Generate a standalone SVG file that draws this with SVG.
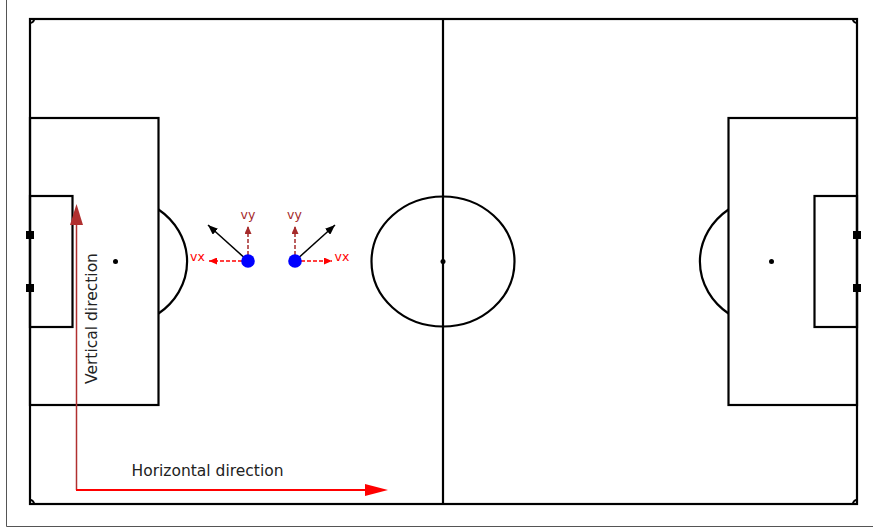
<svg xmlns="http://www.w3.org/2000/svg" width="873" height="532" viewBox="0 0 873 532">
<defs>
<style>
.ln{fill:none;stroke:#000;stroke-width:2.2}
.dot{fill:#000}
.post{fill:#000}
.txt{font-family:"DejaVu Sans",sans-serif}
.vy{fill:#a52a2a;font-size:12.5px;text-anchor:middle}
.vx{fill:#ff0000;font-size:12.5px;text-anchor:middle}
.lbl{fill:#222;font-size:15.5px}
.player{fill:#0000ff}
</style>
<marker id="hBlack" viewBox="0 0 10 8" refX="10" refY="4" markerWidth="10" markerHeight="8" markerUnits="userSpaceOnUse" orient="auto"><path d="M0,0 L10,4 L0,8 z" fill="#000"/></marker>
<marker id="hBrown" viewBox="0 0 8 7" refX="8" refY="3.5" markerWidth="8" markerHeight="7" markerUnits="userSpaceOnUse" orient="auto"><path d="M0,0 L8,3.5 L0,7 z" fill="#a52a2a"/></marker>
<marker id="hRed" viewBox="0 0 8 7" refX="8" refY="3.5" markerWidth="8" markerHeight="7" markerUnits="userSpaceOnUse" orient="auto"><path d="M0,0 L8,3.5 L0,7 z" fill="#ff0000"/></marker>
</defs>
<rect width="873" height="532" fill="#fff"/>
<path d="M6.5,0 V526.5 H873" fill="none" stroke="#555" stroke-width="1"/>

<g id="pitch">
<rect class="ln" x="30" y="19" width="827" height="485"/>
<line class="ln" x1="443" y1="19" x2="443" y2="504"/>
<ellipse class="ln" cx="443" cy="261.5" rx="71.5" ry="65"/>
<circle class="dot" cx="443" cy="261.5" r="2.5"/>
<path class="ln" d="M34,19 A4,4 0 0 1 30,23 M853,19 A4,4 0 0 0 857,23 M30,500 A4,4 0 0 1 34,504 M857,500 A4,4 0 0 0 853,504"/>
</g>

<g id="left-goal">
<rect class="ln" x="30" y="118" width="128.5" height="287"/>
<rect class="ln" x="30" y="196" width="42.5" height="131"/>
<path class="ln" d="M158.5,209.5 A71.5,65 0 0 1 158.5,313.5"/>
<circle class="dot" cx="115.5" cy="261.5" r="2.5"/>
<rect class="post" x="26" y="231" width="8" height="8"/>
<rect class="post" x="26" y="284" width="8" height="8"/>
</g>

<g id="right-goal">
<rect class="ln" x="728.5" y="118" width="128.5" height="287"/>
<rect class="ln" x="814.5" y="196" width="42.5" height="131"/>
<path class="ln" d="M728.5,209.5 A71.5,65 0 0 0 728.5,313.5"/>
<circle class="dot" cx="771.5" cy="261.5" r="2.5"/>
<rect class="post" x="853" y="231" width="8" height="8"/>
<rect class="post" x="853" y="284" width="8" height="8"/>
</g>

<g id="connectors">
<line x1="248" y1="261" x2="208" y2="225" stroke="#000" stroke-width="1.5" marker-end="url(#hBlack)"/>
<line x1="295" y1="261" x2="335" y2="225" stroke="#000" stroke-width="1.5" marker-end="url(#hBlack)"/>
<line x1="248" y1="261" x2="248" y2="226" stroke="#a52a2a" stroke-width="1.5" stroke-dasharray="4,2" marker-end="url(#hBrown)"/>
<line x1="295" y1="261" x2="295" y2="226" stroke="#a52a2a" stroke-width="1.5" stroke-dasharray="4,2" marker-end="url(#hBrown)"/>
<line x1="248" y1="261" x2="209" y2="261" stroke="#ff0000" stroke-width="1.5" stroke-dasharray="4,2" marker-end="url(#hRed)"/>
<line x1="295" y1="261" x2="332" y2="261" stroke="#ff0000" stroke-width="1.5" stroke-dasharray="4,2" marker-end="url(#hRed)"/>
<path d="M76.5,490 V224" fill="none" stroke="#b03030" stroke-width="1.5"/>
<path d="M76.5,204 L83,225 L70,225 z" fill="#b03030"/>
<path d="M76,490 H366" fill="none" stroke="#ff0000" stroke-width="1.8"/>
<path d="M388,490 L365,484 L365,496 z" fill="#ff0000"/>
</g>

<g id="player1">
<circle class="player" cx="248" cy="261" r="6.8"/>
<text class="txt vy" x="248" y="219">vy</text>
<text class="txt vx" x="197.5" y="261">vx</text>
</g>
<g id="player2">
<circle class="player" cx="295" cy="261" r="6.8"/>
<text class="txt vy" x="294.5" y="219">vy</text>
<text class="txt vx" x="342" y="261">vx</text>
</g>

<g id="labels">
<text class="txt lbl" x="131.5" y="476">Horizontal direction</text>
<text class="txt lbl" text-anchor="middle" transform="translate(96.5,318.5) rotate(-90)">Vertical direction</text>
</g>
</svg>
